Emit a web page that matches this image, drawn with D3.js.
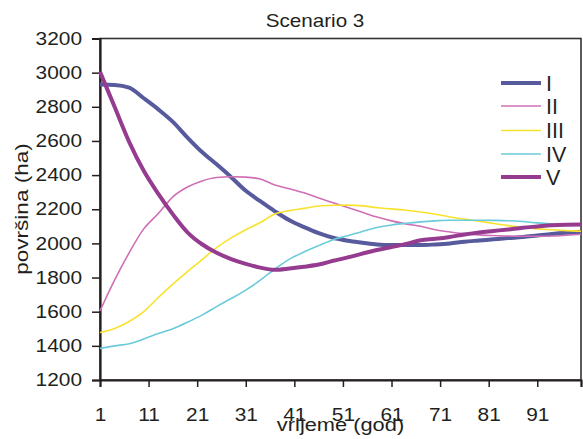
<!DOCTYPE html>
<html>
<head>
<meta charset="utf-8">
<script src="https://cdn.jsdelivr.net/npm/d3@7/dist/d3.min.js"></script>
<style>
  html, body { margin: 0; padding: 0; background: #fff; }
  svg text { font-family: "Liberation Sans", Arial, sans-serif; fill: #231f20; }
</style>
</head>
<body>
<svg id="chart" width="583" height="439"></svg>
<script>
// Years at which each scenario curve is sampled
const years = [1,4,7,10,13,16,19,22,25,28,31,34,37,40,43,46,49,52,55,58,61,64,67,70,73,76,79,82,85,88,91,94,97,100];

// Area (ha) per management class
const serI   = [2930,2928,2912,2850,2785,2712,2620,2535,2463,2388,2308,2247,2188,2135,2095,2060,2033,2016,2004,1993,1990,1990,1990,1994,2000,2010,2017,2024,2031,2037,2046,2055,2062,2067];
const serII  = [1605,1785,1945,2085,2175,2273,2330,2366,2386,2390,2388,2377,2342,2320,2296,2266,2238,2210,2182,2154,2132,2114,2100,2080,2067,2057,2050,2046,2043,2042,2042,2043,2048,2054];
const serIII = [1478,1502,1543,1600,1683,1762,1835,1905,1975,2032,2080,2122,2172,2192,2205,2219,2223,2224,2220,2209,2202,2194,2184,2171,2155,2142,2130,2117,2104,2093,2085,2080,2075,2071];
const serIV  = [1385,1400,1412,1440,1472,1500,1538,1580,1630,1677,1726,1785,1850,1908,1950,1987,2022,2045,2070,2093,2108,2118,2126,2132,2136,2136,2136,2135,2133,2128,2120,2115,2110,2106];
const serV   = [3005,2800,2595,2425,2290,2170,2065,1995,1945,1908,1880,1858,1845,1853,1863,1876,1898,1918,1940,1961,1979,1997,2018,2027,2038,2052,2064,2073,2082,2092,2099,2106,2109,2110];

const seriesNames = ["I","II","III","IV","V"];
const xTickValues = [1,11,21,31,41,51,61,71,81,91];
const yTickValues = [1200,1400,1600,1800,2000,2200,2400,2600,2800,3000,3200];

const title = "Scenario 3";
const xTitle = "vrijeme (god)";
const yTitle = "površina (ha)";

const styles = [
  { color: "#575a9c", width: 4 },
  { color: "#cf6fb6", width: 1.6 },
  { color: "#f9e22e", width: 1.6 },
  { color: "#6acbda", width: 1.6 },
  { color: "#963c90", width: 4 }
];

const series = [serI, serII, serIII, serIV, serV].map((vals, i) => ({
  name: seriesNames[i],
  style: styles[i],
  points: years.map((y, j) => ({ t: y, v: vals[j] }))
}));

const svg = d3.select("#chart");
const plot = { left: 100, right: 581, top: 38.5, bottom: 380 };

const x = d3.scaleLinear().domain([1, 100]).range([plot.left, plot.right]);
const y = d3.scaleLinear().domain([1200, 3200]).range([plot.bottom, plot.top]);

// Wide lettering: glyphs stretched horizontally around their anchor
const WIDE = 1.18;
function widen(sel) {
  sel.each(function () {
    const t = d3.select(this);
    const tx = +t.attr("x") || 0;
    const ty = +t.attr("y") || 0;
    t.attr("transform", `translate(${tx},${ty}) scale(${WIDE},1)`).attr("x", 0).attr("y", 0);
  });
}

// Plot frame
svg.append("rect")
  .attr("x", plot.left).attr("y", plot.top)
  .attr("width", plot.right - plot.left).attr("height", plot.bottom - plot.top)
  .attr("fill", "none").attr("stroke", "#333").attr("stroke-width", 1.6);

// Y axis
const yAxis = svg.append("g")
  .attr("transform", `translate(${plot.left},0)`)
  .call(d3.axisLeft(y).tickValues(yTickValues).tickSize(8).tickPadding(10).tickFormat(d3.format("d")));
yAxis.select(".domain").attr("stroke", "#231f20").attr("stroke-width", 2.2);
yAxis.selectAll(".tick line").attr("stroke", "#231f20").attr("stroke-width", 1.5);
yAxis.selectAll(".tick text").attr("font-size", 17.7).style("fill", "#231f20").call(widen);

// X axis
const xAxis = svg.append("g")
  .attr("transform", `translate(0,${plot.bottom})`)
  .call(d3.axisBottom(x).tickValues(xTickValues.concat([100])).tickSize(7).tickPadding(21)
    .tickFormat(d => xTickValues.includes(d) ? d : ""));
xAxis.select(".domain").attr("stroke", "#231f20").attr("stroke-width", 2);
xAxis.selectAll(".tick line").attr("stroke", "#231f20").attr("stroke-width", 1.5);
xAxis.selectAll(".tick text").attr("font-size", 17.7).style("fill", "#231f20").call(widen);

// Curves
const line = d3.line().x(d => x(d.t)).y(d => y(d.v)).curve(d3.curveMonotoneX);
svg.append("g").selectAll("path")
  .data(series)
  .join("path")
  .attr("d", d => line(d.points))
  .attr("fill", "none")
  .attr("stroke", d => d.style.color)
  .attr("stroke-width", d => d.style.width)
  .attr("stroke-linejoin", "round");

// Legend
const legendRowsY = [83, 106, 130.5, 154, 177];
const legend = svg.append("g").attr("transform", "translate(501,0)");
const rows = legend.selectAll("g").data(series).join("g")
  .attr("transform", (d, i) => `translate(0,${legendRowsY[i]})`);
rows.append("line")
  .attr("x1", 0).attr("x2", 40).attr("y1", 0).attr("y2", 0)
  .attr("stroke", d => d.style.color)
  .attr("stroke-width", d => d.style.width);
rows.append("text")
  .attr("x", 45).attr("y", 7.8)
  .attr("font-size", 21.5)
  .text(d => d.name);

// Titles
svg.append("text")
  .attr("x", 315).attr("y", 27.3)
  .attr("text-anchor", "middle").attr("font-size", 17.5)
  .text(title).call(widen);

svg.append("text")
  .attr("x", 340.5).attr("y", 431)
  .attr("text-anchor", "middle").attr("font-size", 18.5)
  .text(xTitle).call(widen);

svg.append("text")
  .attr("transform", `translate(28,209) rotate(-90) scale(${WIDE + 0.04},1)`)
  .attr("text-anchor", "middle").attr("font-size", 18.5)
  .text(yTitle);
</script>
</body>
</html>
